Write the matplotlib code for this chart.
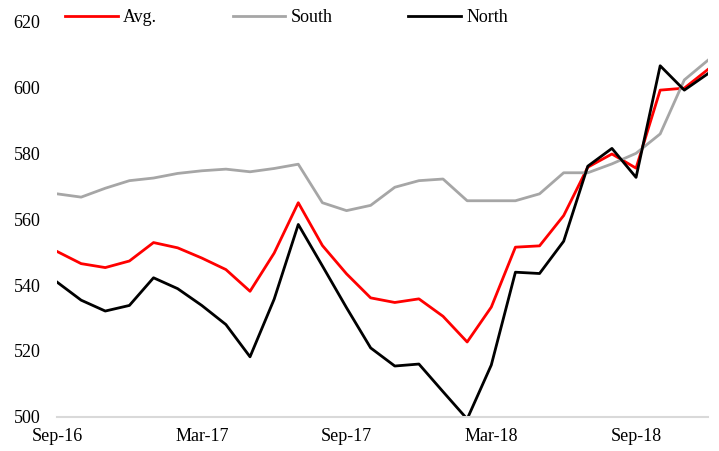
import matplotlib.pyplot as plt

plt.rcParams['font.family'] = ['Liberation Serif', 'DejaVu Serif']

months = ['Sep-16', 'Oct-16', 'Nov-16', 'Dec-16', 'Jan-17', 'Feb-17', 'Mar-17',
          'Apr-17', 'May-17', 'Jun-17', 'Jul-17', 'Aug-17', 'Sep-17', 'Oct-17',
          'Nov-17', 'Dec-17', 'Jan-18', 'Feb-18', 'Mar-18', 'Apr-18', 'May-18',
          'Jun-18', 'Jul-18', 'Aug-18', 'Sep-18', 'Oct-18', 'Nov-18', 'Dec-18']

avg = [550.2, 546.5, 545.3, 547.3, 552.9, 551.3, 548.2, 544.7, 538.1, 549.7,
       565.0, 552.0, 543.4, 536.1, 534.7, 535.8, 530.5, 522.7, 533.3, 551.5,
       551.9, 561.1, 575.8, 579.8, 575.5, 599.2, 599.8, 605.6]
south = [567.7, 566.7, 569.4, 571.7, 572.5, 573.9, 574.7, 575.2, 574.4, 575.4,
         576.7, 565.0, 562.6, 564.2, 569.7, 571.7, 572.2, 565.6, 565.6, 565.6,
         567.7, 574.1, 574.1, 576.8, 580.0, 585.9, 602.3, 608.4]
north = [540.9, 535.4, 532.1, 533.8, 542.2, 538.9, 533.8, 528.0, 518.2, 535.7,
         558.4, 545.8, 533.1, 520.9, 515.4, 516.0, 507.6, 499.3, 515.7, 543.9,
         543.5, 553.3, 576.1, 581.5, 572.7, 606.6, 599.2, 604.3]

x = list(range(len(months)))

fig = plt.figure(figsize=(7.19, 4.51), dpi=100)
ax = fig.add_axes([0.0793, 0.076, 0.906, 0.876])

ax.plot(x, avg, color='#FF0000', lw=2, label='Avg.')
ax.plot(x, south, color='#A6A6A6', lw=2, label='South')
ax.plot(x, north, color='black', lw=2, label='North')

ax.set_xlim(0, 27)
ax.set_ylim(500, 620)
ax.set_yticks(range(500, 621, 20))
ax.set_xticks(x[::6])
ax.set_xticklabels(months[::6])
ax.tick_params(length=0, labelsize=13)
ax.tick_params(axis='x', pad=8)
ax.tick_params(axis='y', pad=12)

for s in ['top', 'right', 'left']:
    ax.spines[s].set_visible(False)
ax.spines['bottom'].set_color('#D9D9D9')
ax.spines['bottom'].set_linewidth(1.5)

fig.legend(loc='upper left', bbox_to_anchor=(0.068, 1.016), ncol=3, frameon=False,
           fontsize=13, handlelength=2.9, handletextpad=0.3, columnspacing=4.2)

plt.savefig('out.png')
